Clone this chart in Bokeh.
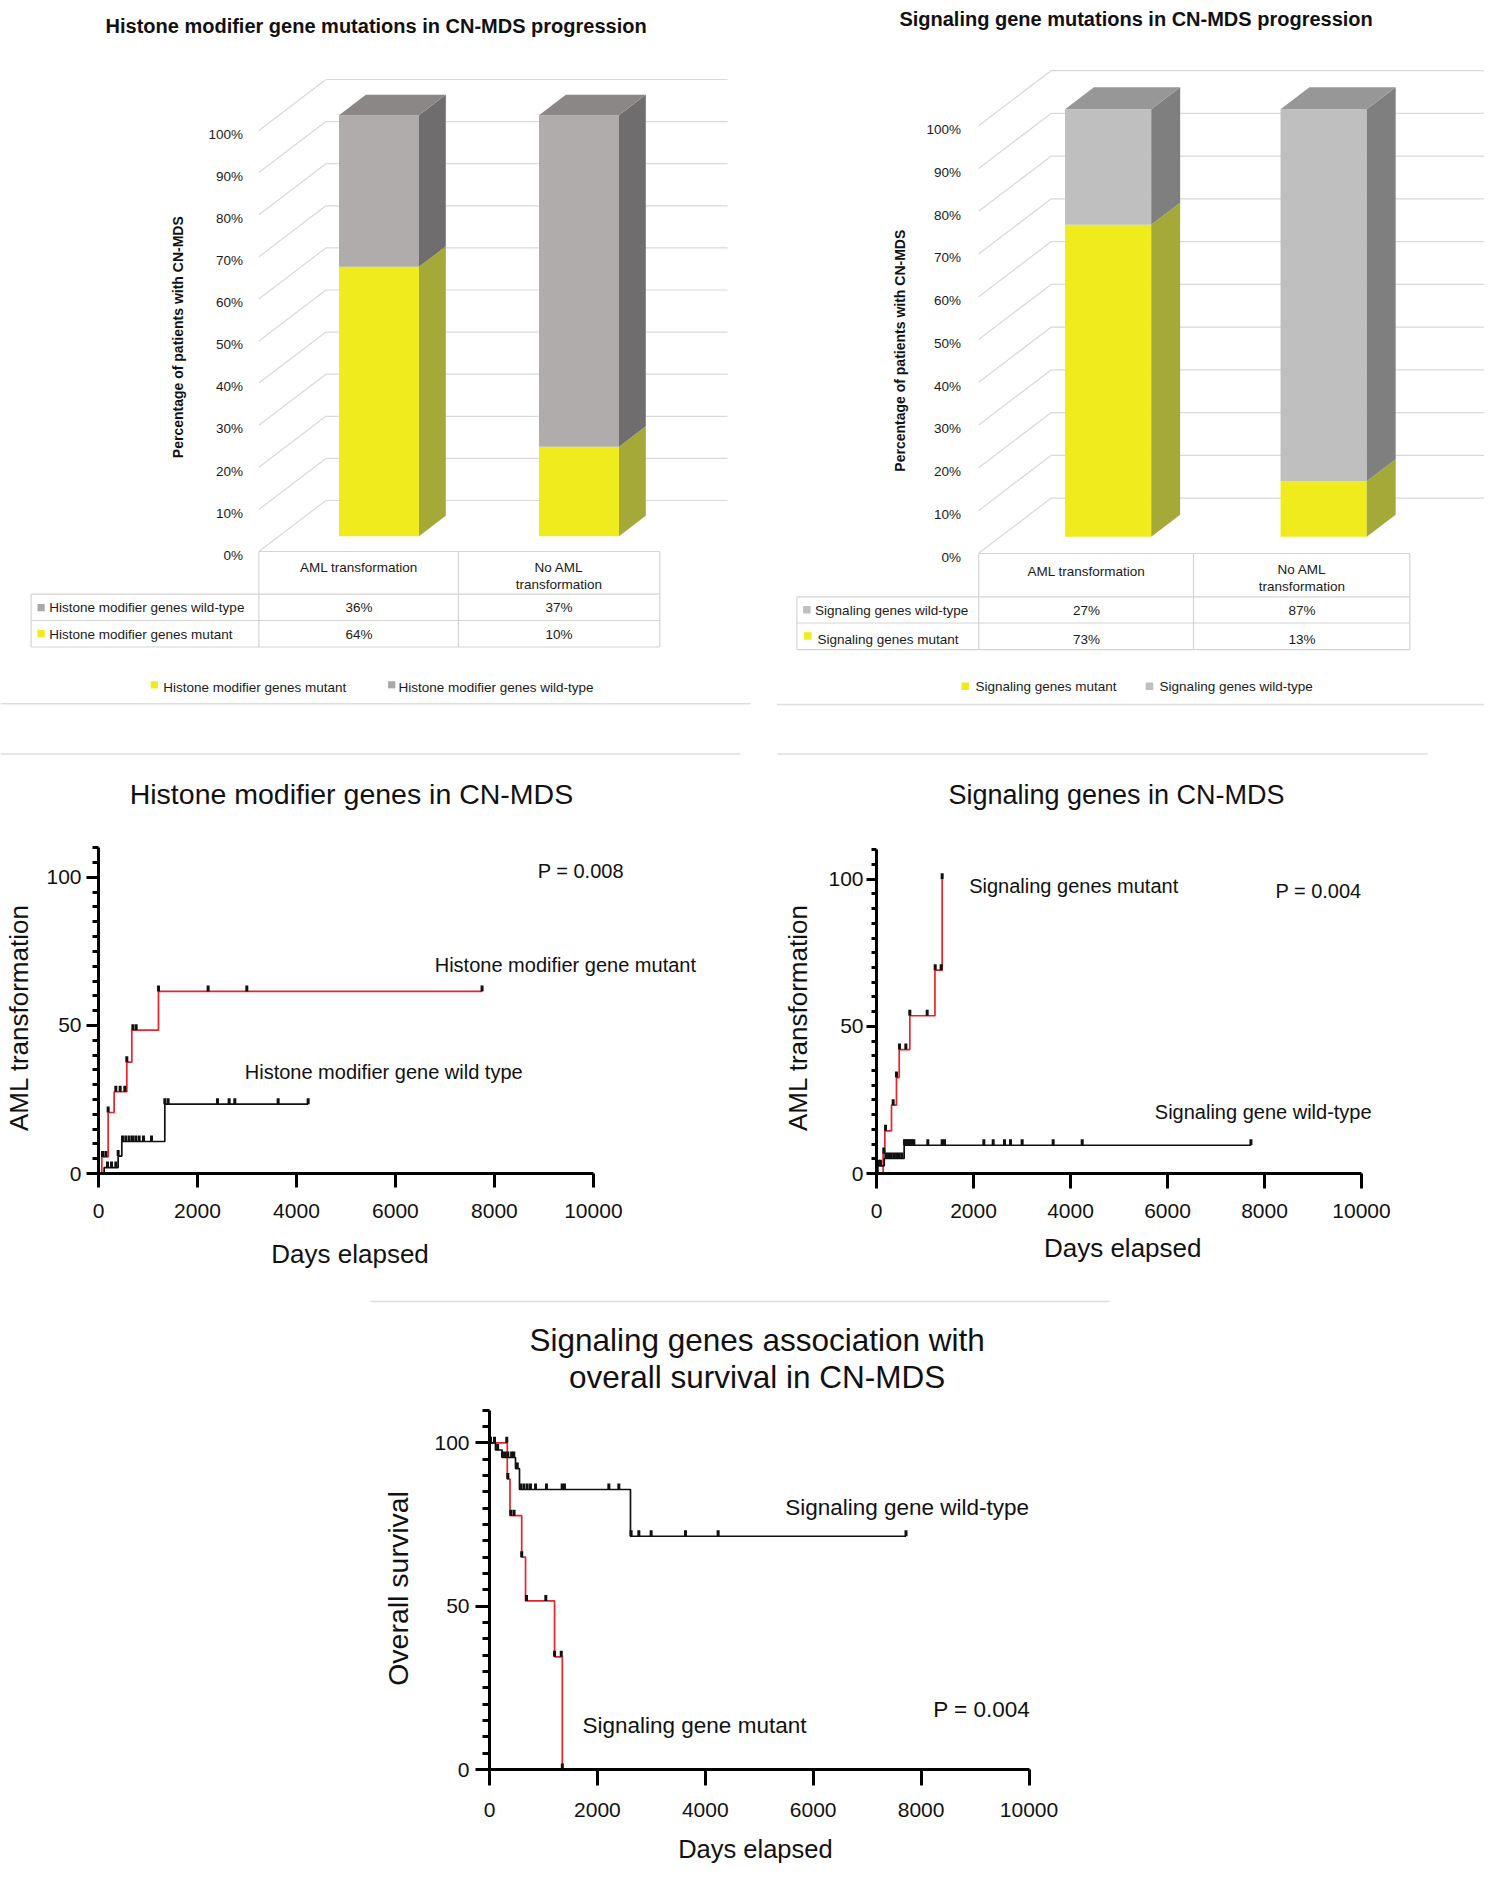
import numpy as np
from bokeh.plotting import figure
from bokeh.models import Range1d, Label, FixedTicker, LinearAxis, Spacer
from bokeh.layouts import column, row
from bokeh.embed import file_html
from bokeh.resources import INLINE
from bokeh.core.properties import value

FONT = "Liberation Sans"

# ---------------- data: stacked 3D bar charts ----------------
bar_groups = ["AML transformation", "No AML\ntransformation"]
pct_ticks = list(range(0, 101, 10))
pct_labels = [f"{t}%" for t in pct_ticks]

hist_title = "Histone modifier gene mutations in CN-MDS progression"
hist_series = ["Histone modifier genes mutant", "Histone modifier genes wild-type"]
hist_mutant = [64, 10]
hist_wildtype = [36, 37]

sig_title = "Signaling gene mutations in CN-MDS progression"
sig_series = ["Signaling genes mutant", "Signaling genes wild-type"]
sig_mutant = [73, 13]
sig_wildtype = [27, 87]

bar_ylabel = "Percentage of patients with CN-MDS"

# ---------------- data: Kaplan-Meier curves ----------------
km_xticks = [0, 2000, 4000, 6000, 8000, 10000]
km_ymajor = [0, 50, 100]
km_yminor = list(range(0, 111, 5))

hm_mut_t = [0, 67, 195, 316, 572, 673, 1212, 7750]
hm_mut_v = [0, 5.6, 20.6, 27.6, 37.6, 48.4, 61.5, 61.5]
hm_mut_cens = [81, 148, 195, 350, 438, 532, 572, 694, 761, 1212, 2215, 2997, 7750]
hm_wt_t = [0, 114, 397, 471, 1340, 4236]
hm_wt_v = [0, 2.0, 5.9, 10.8, 23.4, 23.4]
hm_wt_cens = [182, 263, 350, 397, 485, 552, 620, 687, 754, 822, 909, 1071,
              1340, 1407, 2404, 2640, 2754, 3630, 4236]

sg_mut_t = [0, 137, 172, 309, 412, 468, 687, 1205, 1354]
sg_mut_v = [0, 6.8, 14.5, 23.2, 32.6, 42.1, 53.6, 69.1, 100]
sg_mut_cens = [150, 186, 344, 412, 474, 605, 687, 1045, 1210, 1333, 1354]
sg_wt_t = [0, 30, 160, 570, 7720]
sg_wt_v = [0, 2.6, 5.1, 9.6, 9.6]
sg_wt_cens = [40, 82, 193, 248, 303, 358, 414, 469, 524, 577, 607, 640, 672, 705,
              737, 770, 1058, 1354, 1402, 2213, 2406, 2639, 2763, 3003, 3643, 4241, 7720]

os_mut_t = [0, 330, 380, 597, 668, 1206, 1350]
os_mut_v = [100, 88.9, 77.7, 65.0, 51.6, 34.5, 0]
os_mut_cens = [320, 340, 395, 455, 597, 686, 1044, 1206, 1330, 1350]
os_wt_t = [0, 111, 235, 482, 556, 2613, 7720]
os_wt_v = [100, 97.8, 95.5, 92.1, 85.7, 71.4, 71.4]
os_wt_cens = [19, 93, 150, 240, 290, 340, 410, 450, 515, 575, 636, 698, 760, 853,
              1056, 1347, 1390, 2212, 2397, 2625, 2768, 2996, 3633, 4238, 7720]

# ---------------- styles ----------------
TXT = "#1a1a1a"
GRID = "#d9d9d9"
TBL = "#d4d4d4"
SEP = "#dedede"
RED = "#e8232a"
YEL = dict(front="#f0eb1c", side="#a4a938", top="#c8c620")
GRAY_H = dict(front="#b0acab", side="#6f6d6d", top="#8a8786", legend="#a9a9a9")
GRAY_S = dict(front="#bfbfbf", side="#7f7f7f", top="#979797", legend="#bfbfbf")

# layout geometry of the two pseudo-3D charts (page pixels)
GEO_H = dict(x0=0, y0=0, W=760, H=760, fx=258.4, fy=551.0, cw=200.0, sy=4.21,
             ddx=67.0, ddy=51.0, back_right=727.0, tick_right=242.5, tick_dy=3.7,
             title=(375.6, 25.2), ylab=(177.0, 336.7),
             lab_left=30.6, cols=[258.4, 457.9, 659.3], rows=[551.0, 593.6, 620.0, 646.5],
             hdr1=566.5, hdr2=(566.5, 584.0), rowy=[607.0, 634.0],
             rowlab_x=[48.8, 48.8], rowmark=[(37.0, 603.5), (37.0, 629.5)],
             leg_y=686.5, leg_sq=[(150.2, 680.7), (387.6, 680.7)], leg_tx=[162.7, 398.0],
             sq=7.2, seps=[(0, 703.2, 750, 703.2), (0, 753.5, 740, 753.5)])
GEO_S = dict(x0=760, y0=0, W=724, H=760, fx=978.2, fy=552.8, cw=215.5, sy=4.275,
             ddx=72.3, ddy=55.1, back_right=1484.0, tick_right=960.5, tick_dy=3.7,
             title=(1135.6, 18.3), ylab=(899.8, 350.2),
             lab_left=796.4, cols=[978.2, 1193.0, 1409.3], rows=[553.0, 596.3, 622.5, 649.1],
             hdr1=571.0, hdr2=(568.8, 586.2), rowy=[610.0, 638.5],
             rowlab_x=[814.6, 817.0], rowmark=[(802.6, 605.5), (803.6, 631.7)],
             leg_y=685.8, leg_sq=[(961.0, 682.0), (1145.2, 682.0)], leg_tx=[974.9, 1159.1],
             sq=7.5, seps=[(776.3, 704.0, 1484, 704.0), (777, 753.5, 1427, 753.5)])


def bar3d(g, title, series, mut, wt, gray):
    U = lambda px: (px - g["fx"]) / g["cw"]
    V = lambda py: (g["fy"] - py) / g["sy"]
    p = figure(width=g["W"], height=g["H"],
               x_range=Range1d(U(g["x0"]), U(g["x0"] + g["W"])),
               y_range=Range1d(V(g["y0"] + g["H"]), V(g["y0"])),
               x_axis_type=None, y_axis_type=None, toolbar_location=None,
               output_backend="svg", min_border=0, outline_line_color=None)
    DX = g["ddx"] / g["cw"]
    DY = g["ddy"] / g["sy"]
    BR = U(g["back_right"])
    # walls / gridlines
    p.multi_line([[0, DX, BR] for t in pct_ticks],
                 [[t, t + DY, t + DY] for t in pct_ticks],
                 line_color=GRID, line_width=1.2)
    # bars (100% stacked)
    d0, d1, bw = 0.3, 0.7, 0.4
    dd = (d1 - d0) * DX
    for i in range(len(bar_groups)):
        tot = mut[i] + wt[i]
        m = 100.0 * mut[i] / tot
        c = i + 0.5
        l = c - bw / 2 + d0 * DX
        r = c + bw / 2 + d0 * DX
        b0 = d0 * DY
        b1 = d1 * DY
        for lo, hi, col in [(0, m, YEL), (m, 100, gray)]:
            p.quad(left=[l], right=[r], bottom=[lo + b0], top=[hi + b0],
                   fill_color=col["front"], line_color=None)
            p.patch([r, r + dd, r + dd, r], [lo + b0, lo + b1, hi + b1, hi + b0],
                    fill_color=col["side"], line_color=None)
        p.patch([l, r, r + dd, l + dd], [100 + b0, 100 + b0, 100 + b1, 100 + b1],
                fill_color=gray["top"], line_color=None)
    # tick labels
    p.text(x=[U(g["tick_right"])] * len(pct_ticks), y=[t - g["tick_dy"] / g["sy"] for t in pct_ticks],
           text=pct_labels, text_align="right", text_baseline="middle",
           text_font=value(FONT), text_font_size=value("13.5px"), text_color=TXT)
    # title & y label
    p.text(x=[U(g["title"][0])], y=[V(g["title"][1])], text=[title],
           text_align="center", text_baseline="middle", text_font=value(FONT),
           text_font_size=value("20px"), text_font_style=value("bold"), text_color="#111111")
    p.text(x=[U(g["ylab"][0])], y=[V(g["ylab"][1])], text=[bar_ylabel], angle=np.pi / 2,
           text_align="center", text_baseline="middle", text_font=value(FONT),
           text_font_size=value("14px"), text_font_style=value("bold"), text_color="#111111")
    # data table
    cols, rows, ll = g["cols"], g["rows"], g["lab_left"]
    x0s, y0s, x1s, y1s = [cols[0]], [rows[0]], [cols[-1]], [rows[0]]
    for cx in cols:
        x0s.append(cx); y0s.append(rows[0]); x1s.append(cx); y1s.append(rows[-1])
    x0s.append(ll); y0s.append(rows[1]); x1s.append(ll); y1s.append(rows[-1])
    for ry in rows[1:]:
        x0s.append(ll); y0s.append(ry); x1s.append(cols[-1]); y1s.append(ry)
    p.segment([U(v) for v in x0s], [V(v) for v in y0s], [U(v) for v in x1s], [V(v) for v in y1s],
              line_color=TBL, line_width=1.2)
    hx, hy, ht = [], [], []
    for i, grp in enumerate(bar_groups):
        lines = grp.split("\n")
        ys = [g["hdr1"]] if len(lines) == 1 else list(g["hdr2"])
        for ln, yy in zip(lines, ys):
            hx.append(i + 0.5); hy.append(V(yy)); ht.append(ln)
    table_rows = [(series[1], wt, gray["legend"]), (series[0], mut, YEL["front"])]
    for k, (name, vals, colr) in enumerate(table_rows):
        for i, v in enumerate(vals):
            hx.append(i + 0.5); hy.append(V(g["rowy"][k])); ht.append(f"{v}%")
        mx, my = g["rowmark"][k]
        p.quad(left=[U(mx)], right=[U(mx + g["sq"])], top=[V(my)], bottom=[V(my + g["sq"])],
               fill_color=colr, line_color=None)
        p.text(x=[U(g["rowlab_x"][k])], y=[V(g["rowy"][k])], text=[name], text_align="left",
               text_baseline="middle", text_font=value(FONT), text_font_size=value("13.5px"),
               text_color=TXT)
    p.text(x=hx, y=hy, text=ht, text_align="center", text_baseline="middle",
           text_font=value(FONT), text_font_size=value("13.5px"), text_color=TXT)
    # legend
    for k, (name, colr) in enumerate([(series[0], YEL["front"]), (series[1], gray["legend"])]):
        sx, sy_ = g["leg_sq"][k]
        p.quad(left=[U(sx)], right=[U(sx + g["sq"])], top=[V(sy_)], bottom=[V(sy_ + g["sq"])],
               fill_color=colr, line_color=None)
        p.text(x=[U(g["leg_tx"][k])], y=[V(g["leg_y"])], text=[name], text_align="left",
               text_baseline="middle", text_font=value(FONT), text_font_size=value("13.5px"),
               text_color=TXT)
    # separators
    s = g["seps"]
    p.segment([U(a[0]) for a in s], [V(a[1]) for a in s], [U(a[2]) for a in s], [V(a[3]) for a in s],
              line_color=SEP, line_width=1.5)
    return p


def level_at(times, vals, t):
    idx = max(i for i, tt in enumerate(times) if tt <= t)
    return vals[idx]


def padded(text, shift_px, font_px):
    # trailing no-break spaces move a centred axis title towards its start
    n = int(round(2.0 * shift_px / (0.278 * font_px)))
    return text + "\u00a0" * max(n, 0)


def km_plot(px0, py0, W, H, left, bottom, kx, ky, ylab, curves, labels, tick_out, fonts, stand,
            xlab_cx, ylab_cy):
    # frame fills the figure to its right and top edges; axes are bounded to data extent
    fw, fh = W - left, H - bottom
    p = figure(width=W, height=H, x_range=Range1d(0, fw / kx), y_range=Range1d(0, fh / ky),
               x_axis_type=None, y_axis_type=None, toolbar_location=None, output_backend="svg",
               min_border_left=left, min_border_right=0, min_border_top=0,
               min_border_bottom=bottom, outline_line_color=None)
    xl = padded("Days elapsed", (px0 + left + fw / 2.0) - xlab_cx, fonts["xlab"])
    yl = padded(ylab, ylab_cy - (py0 + fh / 2.0), fonts["ylab"])
    xa = LinearAxis(ticker=FixedTicker(ticks=km_xticks), axis_label=xl,
                    bounds=(km_xticks[0], km_xticks[-1]))
    ya = LinearAxis(ticker=FixedTicker(ticks=km_ymajor, minor_ticks=km_yminor), axis_label=yl,
                    bounds=(km_yminor[0], km_yminor[-1]))
    for ax in (xa, ya):
        ax.axis_line_width = 3
        ax.axis_line_color = "black"
        ax.major_tick_line_width = 3
        ax.minor_tick_line_width = 3
        ax.major_tick_in = 0
        ax.minor_tick_in = 0
        ax.major_label_text_font = FONT
        ax.major_label_text_font_size = fonts["tick"]
        ax.major_label_text_color = "#111111"
        ax.axis_label_text_font = FONT
        ax.axis_label_text_font_style = "normal"
        ax.axis_label_text_color = "#111111"
    xa.major_tick_out = tick_out[0]
    xa.minor_tick_out = 0
    xa.major_label_standoff = stand[0]
    xa.axis_label_standoff = stand[1]
    xa.axis_label_text_font_size = f'{fonts["xlab"]}px'
    ya.major_tick_out = tick_out[1]
    ya.minor_tick_out = tick_out[2]
    ya.major_label_standoff = stand[2]
    ya.axis_label_standoff = stand[3]
    ya.axis_label_text_font_size = f'{fonts["ylab"]}px'
    p.add_layout(xa, "below")
    p.add_layout(ya, "left")
    off = 3.0 / ky
    for times, vals, cens, colr in curves:
        p.step(times, vals, mode="after", line_color=colr, line_width=1.7)
    for times, vals, cens, colr in curves:
        p.rect(x=cens, y=[level_at(times, vals, t) + off for t in cens], width=3, height=6,
               width_units="screen", height_units="screen", fill_color="#111111", line_color=None)
    for (x, y, txt, size, align) in labels:
        p.add_layout(Label(x=x, y=y, text=txt, text_font=FONT, text_font_size=size,
                           text_align=align, text_baseline="middle", text_color="#111111"))
    return p


p1 = bar3d(GEO_H, hist_title, hist_series, hist_mutant, hist_wildtype, GRAY_H)
p2 = bar3d(GEO_S, sig_title, sig_series, sig_mutant, sig_wildtype, GRAY_S)

p3 = km_plot(0, 760, 760, 530, 98, 112, 494.9 / 10000, 2.997, "AML transformation",
             [(hm_mut_t, hm_mut_v, hm_mut_cens, RED), (hm_wt_t, hm_wt_v, hm_wt_cens, "#111111")],
             [(5111, 128.0, "Histone modifier genes in CN-MDS", "28.5px", "center"),
              (8875, 102.1, "P = 0.008", "20px", "left"),
              (6794, 70.5, "Histone modifier gene mutant", "20px", "left"),
              (2955, 34.3, "Histone modifier gene wild type", "20px", "left")],
             (14, 12, 6), dict(tick="21px", xlab=26, ylab=26), (16, 18, 5, 9),
             348.8, 1018.0)

p4 = km_plot(760, 760, 724, 530, 116, 117, 485.0 / 10000, 2.943, "AML transformation",
             [(sg_mut_t, sg_mut_v, sg_mut_cens, RED), (sg_wt_t, sg_wt_v, sg_wt_cens, "#111111")],
             [(4948, 128.5, "Signaling genes in CN-MDS", "27px", "center"),
              (8225, 95.9, "P = 0.004", "20px", "left"),
              (1911, 97.6, "Signaling genes mutant", "20px", "left"),
              (5738, 21.0, "Signaling gene wild-type", "20px", "left")],
             (15, 10, 5), dict(tick="21px", xlab=26, ylab=26), (15, 12, 3, 12),
             1123.2, 1017.6)

p5 = km_plot(360, 1304, 760, 568, 129, 103, 539.5 / 10000, 3.267, "Overall survival",
             [(os_mut_t, os_mut_v, os_mut_cens, RED), (os_wt_t, os_wt_v, os_wt_cens, "#111111")],
             [(4960, 131.5, "Signaling genes association with", "31.5px", "center"),
              (4960, 120.1, "overall survival in CN-MDS", "31.5px", "center"),
              (8224, 18.5, "P = 0.004", "22.5px", "left"),
              (1724, 13.4, "Signaling gene mutant", "22.5px", "left"),
              (5481, 80.2, "Signaling gene wild-type", "22.5px", "left")],
             (16, 14, 7), dict(tick="21px", xlab=25.5, ylab=28.5), (17, 15, 6, 17),
             755.6, 1587.5)

# separator strip between middle and bottom rows (page pixels)
strip_seps = [(370, 1301.0, 1109, 1301.0)]
ps = figure(width=1484, height=14, x_range=Range1d(0, 1484), y_range=Range1d(1304, 1290),
            x_axis_type=None, y_axis_type=None, toolbar_location=None, output_backend="svg",
            min_border=0, outline_line_color=None)
ps.segment([s[0] for s in strip_seps], [s[1] for s in strip_seps],
           [s[2] for s in strip_seps], [s[3] for s in strip_seps], line_color=SEP, line_width=1.5)

layout = column(row(p1, p2), row(p3, p4), ps, row(Spacer(width=360, height=568), p5))
open("out.html", "w").write(file_html(layout, INLINE))
